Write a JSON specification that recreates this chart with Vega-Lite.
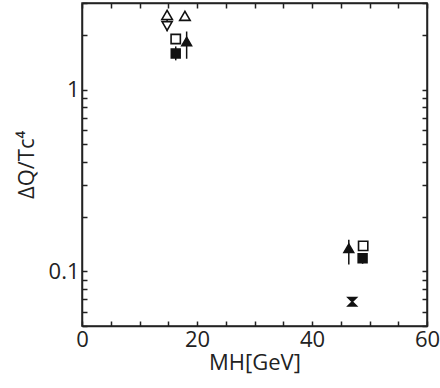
{
  "$schema": "https://vega.github.io/schema/vega-lite/v6.json",
  "autosize": {"type": "none"},
  "width": 345,
  "height": 323,
  "padding": {"left": 82, "top": 3, "right": 13, "bottom": 62},
  "background": "white",
  "config": {
    "view": {"stroke": "#222", "strokeWidth": 1.5},
    "font": "Open Sans",
    "axis": {"grid": false, "ticks": true, "labelFlush": false, "domainColor": "#222", "domainWidth": 1.5, "tickColor": "#222", "tickWidth": 1.5, "labelColor": "#222", "titleColor": "#222", "labelFont": "Open Sans", "titleFont": "Open Sans", "labelFontSize": 22, "titleFontSize": 22, "titleFontWeight": "normal"}
  },
  "data": {"values": [
    {"series": "otu", "x": 14.8, "y": 2.58},
    {"series": "otu", "x": 17.9, "y": 2.55},
    {"series": "otd", "x": 14.8, "y": 2.24, "lo": 2.1, "hi": 2.45},
    {"series": "ftu", "x": 18.2, "y": 1.84, "lo": 1.48, "hi": 2.09},
    {"series": "osq", "x": 16.3, "y": 1.9},
    {"series": "fsq", "x": 16.3, "y": 1.58, "lo": 1.45, "hi": 1.73},
    {"series": "ftu", "x": 46.4, "y": 0.134, "lo": 0.109, "hi": 0.149},
    {"series": "osq", "x": 48.9, "y": 0.138},
    {"series": "fsq", "x": 48.8, "y": 0.118, "lo": 0.11, "hi": 0.125},
    {"series": "hg", "x": 47.0, "y": 0.068}
  ]},
  "resolve": {"axis": {"x": "independent", "y": "independent"}},
  "layer": [
    {
      "mark": {"type": "rule", "color": "#111", "strokeWidth": 1.5},
      "transform": [{"filter": "isValid(datum.lo)"}],
      "encoding": {
        "x": {"field": "x", "type": "quantitative", "axis": null, "scale": {"domain": [0, 60]}},
        "y": {"field": "lo", "type": "quantitative", "axis": null, "scale": {"type": "log", "domain": [0.05, 3]}},
        "y2": {"field": "hi"}
      }
    },
    {
      "mark": {"type": "point", "filled": true, "stroke": "#111", "strokeWidth": 1.6, "opacity": 1},
      "encoding": {
        "x": {"field": "x", "type": "quantitative", "scale": {"domain": [0, 60]},
          "axis": {"title": "MH[GeV]", "values": [0,5,10,15,20,25,30,35,40,45,50,55,60], "labelExpr": "datum.value % 20 === 0 ? datum.label : ''", "tickSize": -5, "labelPadding": 8, "titlePadding": 2}},
        "y": {"field": "y", "type": "quantitative", "scale": {"type": "log", "domain": [0.05, 3]},
          "axis": {"title": "ΔQ/Tc⁴", "values": [0.05,0.06,0.07,0.08,0.09,0.1,0.2,0.3,0.4,0.5,0.6,0.7,0.8,0.9,1,2,3], "labelExpr": "datum.value === 1 ? '1' : (datum.value === 0.1 ? '0.1' : '')", "tickSize": -5, "labelPadding": 8, "titlePadding": 10}},
        "shape": {"field": "series", "type": "nominal", "legend": null,
          "scale": {"domain": ["otu", "otd", "ftu", "osq", "fsq", "hg"], "range": ["triangle-up", "triangle-down", "triangle-up", "square", "square", "M-1,-1L1,-1L-1,1L1,1Z"]}},
        "fill": {"field": "series", "type": "nominal", "legend": null,
          "scale": {"domain": ["otu", "otd", "ftu", "osq", "fsq", "hg"], "range": ["white", "white", "#111", "white", "#111", "#111"]}},
        "size": {"field": "series", "type": "nominal", "legend": null,
          "scale": {"domain": ["otu", "otd", "ftu", "osq", "fsq", "hg"], "range": [110, 70, 120, 130, 110, 55]}}
      }
    },
    {
      "mark": {"type": "point", "opacity": 0},
      "encoding": {
        "x": {"field": "x", "type": "quantitative", "scale": {"domain": [0, 60]},
          "axis": {"orient": "top", "title": null, "labels": false, "values": [0,5,10,15,20,25,30,35,40,45,50,55,60], "tickSize": -5}},
        "y": {"field": "y", "type": "quantitative", "scale": {"type": "log", "domain": [0.05, 3]},
          "axis": {"orient": "right", "title": null, "labels": false, "values": [0.05,0.06,0.07,0.08,0.09,0.1,0.2,0.3,0.4,0.5,0.6,0.7,0.8,0.9,1,2,3], "tickSize": -5}}
      }
    }
  ]
}
